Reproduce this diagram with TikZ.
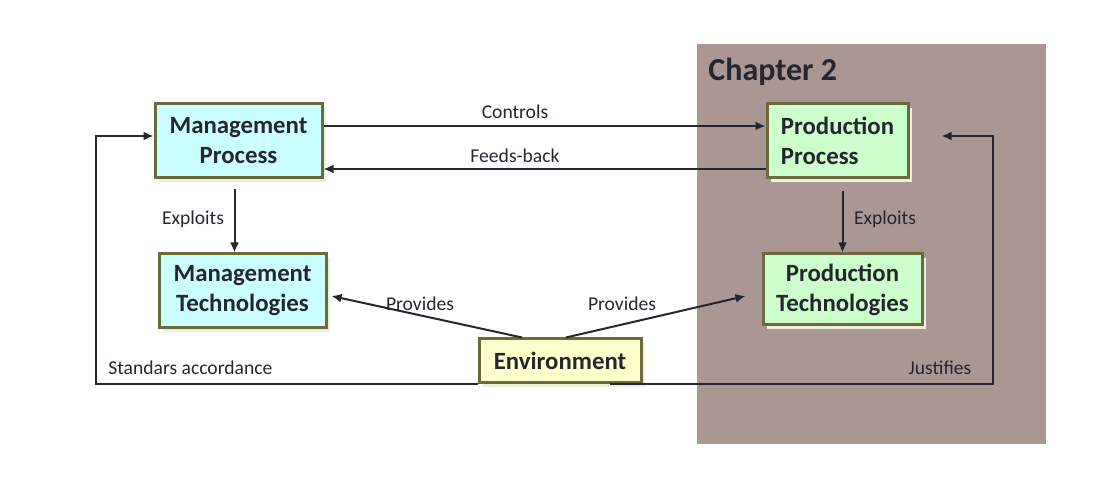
\documentclass[tikz,border=0pt]{standalone}
\usepackage{fontspec}
\setmainfont{Carlito}
\usetikzlibrary{positioning,shadows,arrows.meta}
\definecolor{chapbg}{HTML}{AA9693}
\definecolor{boxline}{HTML}{6A6A3C}
\definecolor{inkcol}{HTML}{262630}
\definecolor{shadowcol}{HTML}{EEEEDA}
\definecolor{mgmtfill}{HTML}{CCFFFF}
\definecolor{prodfill}{HTML}{CCFFCC}
\definecolor{envfill}{HTML}{FFFFCC}

\begin{document}
\begin{tikzpicture}[x=0.5pt,y=-0.5pt,
    box/.style={draw=boxline,line width=1.5pt,text=inkcol,inner sep=0pt,
                font=\fontsize{12.4}{15}\selectfont\bfseries,align=center,
                drop shadow={shadow xshift=2pt,shadow yshift=-2pt,fill=shadowcol,opacity=1}},
    mgmt/.style={box,fill=mgmtfill,minimum width=83.5pt,minimum height=37pt},
    prod/.style={box,fill=prodfill},
    lbl/.style={text=inkcol,font=\fontsize{9.8}{11}\selectfont,inner sep=0pt},
    arr/.style={draw=inkcol,line width=1pt,-{Latex[length=5pt,width=4.5pt]}}]
  \useasboundingbox (0,0) rectangle (1110,496);

  % Chapter 2 area
  \fill[chapbg] (697,44) rectangle (1046,444);
  \node[anchor=west,text=inkcol,font=\fontsize{16}{18}\selectfont\bfseries,inner sep=0pt]
    (chap) at (708,72) {Chapter 2};

  % boxes
  \node[mgmt] (mp) at (238.5,141) {Management\\Process};
  \node[mgmt] (mt) at (242.5,291) {Management\\Technologies};
  \node[prod,align=left,minimum width=70.5pt,minimum height=37pt] (pp) at (837.5,141) {Production\\Process};
  \node[prod,minimum width=79.5pt,minimum height=35.5pt] (pt) at (842.5,289.5) {Production\\Technologies};
  \node[box,fill=envfill,minimum width=81pt,minimum height=22pt] (env) at (560,361) {Environment};

  % corners of the long connectors
  \coordinate (lcorner) at (96,0);
  \coordinate (rcorner) at (993,0);

  % connectors
  \draw[arr] ([yshift=7.5pt]mp.east) -- ([yshift=7.5pt]pp.west);
  \draw[arr] ([yshift=-14pt]pp.west) -- ([yshift=-14pt]mp.east);
  \draw[arr] ([xshift=-2pt,yshift=-5pt]mp.south) -- ([xshift=-2pt]mp.south |- mt.north);
  \draw[arr] ([yshift=-6pt]pt.north |- pp.south) -- (pt.north);
  \draw[arr] ([xshift=-19pt]env.north) -- ([xshift=2pt,yshift=-2.5pt]mt.east);
  \draw[arr] ([xshift=3pt]env.north) -- ([xshift=-8pt,yshift=-3.25pt]pt.west);
  \draw[arr] (env.south west) -- (lcorner |- env.south west) |- ([yshift=2.5pt]mp.west);
  \draw[arr] ([xshift=-16.5pt]env.south east) -- (rcorner |- env.south east) |- ([xshift=16pt,yshift=2.5pt]pp.east);

  % labels
  \node[lbl] (controls) at (515,112) {Controls};
  \node[lbl] (feedsback) at (515,156) {Feeds-back};
  \node[lbl] (exploitsl) at (193,219) {Exploits};
  \node[lbl] (exploitsr) at (885,219) {Exploits};
  \node[lbl] (providesl) at (420,304) {Provides};
  \node[lbl] (providesr) at (622,304) {Provides};
  \node[lbl,anchor=west] (standars) at (108,368) {Standars accordance};
  \node[lbl] (justifies) at (940,368) {Justifies};
\end{tikzpicture}
\end{document}
